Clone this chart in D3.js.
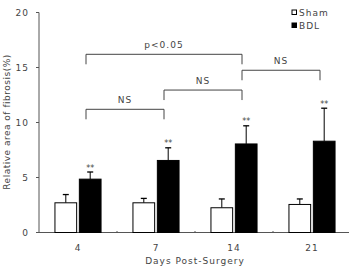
<!DOCTYPE html>
<html>
<head>
<meta charset="utf-8">
<script src="https://cdn.jsdelivr.net/npm/d3@7"></script>
<style>
  body { margin: 0; background: #fff; }
  text { font-family: "DejaVu Sans", sans-serif; fill: #444; letter-spacing: 1px; }
</style>
</head>
<body>
<script>
// chart data
const days = ['4', '7', '14', '21'];
const shamMean = [2.7, 2.7, 2.25, 2.55];
const shamErr = [0.75, 0.4, 0.8, 0.5];
const bdlMean = [4.85, 6.55, 8.05, 8.3];
const bdlErr = [0.65, 1.15, 1.65, 3.0];
const yTicks = [0, 5, 10, 15, 20];

// brackets: [fromDay, toDay, level (value), label]
const brackets = [
  ['4', '7', 11.2, 'NS'],
  ['7', '14', 12.95, 'NS'],
  ['14', '21', 14.75, 'NS'],
  ['4', '14', 16.2, 'p<0.05'],
];

const width = 349, height = 266;
const svg = d3.select('body').append('svg')
  .attr('width', width)
  .attr('height', height);

const x = d3.scaleBand().domain(days).range([39, 351]);
const y = d3.scaleLinear().domain([0, 20]).range([232.5, 12.5]);

const barW = 21.7;

// y axis
svg.append('line')
  .attr('x1', 39).attr('x2', 39)
  .attr('y1', y(20)).attr('y2', y(0))
  .style('stroke', '#555');

svg.selectAll('.ytick').data(yTicks).enter().append('line')
  .attr('x1', 36).attr('x2', 39)
  .attr('y1', d => y(d)).attr('y2', d => y(d))
  .style('stroke', '#555');

svg.selectAll('.ylab').data(yTicks).enter().append('text')
  .attr('x', 29)
  .attr('y', d => y(d) + 3.5)
  .attr('text-anchor', 'end')
  .style('font-size', '9px')
  .text(d => d);

// x axis
svg.append('line')
  .attr('x1', 39).attr('x2', 349)
  .attr('y1', y(0)).attr('y2', y(0))
  .style('stroke', '#555');

svg.selectAll('.xtick').data(days.slice(1)).enter().append('line')
  .attr('x1', d => x(d)).attr('x2', d => x(d))
  .attr('y1', y(0) - 1.5).attr('y2', y(0) + 0.5)
  .style('stroke', '#555');

svg.selectAll('.xlab').data(days).enter().append('text')
  .attr('x', d => x(d) + x.bandwidth() / 2)
  .attr('y', 251)
  .attr('text-anchor', 'middle')
  .style('font-size', '9px')
  .text(d => d);

svg.append('text')
  .attr('x', 195).attr('y', 264)
  .attr('text-anchor', 'middle')
  .style('font-size', '9px')
  .text('Days Post-Surgery');

svg.append('text')
  .attr('transform', 'translate(10,122) rotate(-90)')
  .attr('text-anchor', 'middle')
  .style('font-size', '9px')
  .style('letter-spacing', '0.5px')
  .text('Relative area of fibrosis(%)');

// bars + error bars
const drawSeries = function (means, errs, offset, fill) {
  const cx = (d, i) => x(days[i]) + x.bandwidth() / 2 + offset;
  svg.selectAll(null).data(means).enter().append('line')
    .attr('x1', cx).attr('x2', cx)
    .attr('y1', d => y(d))
    .attr('y2', (d, i) => y(d + errs[i]))
    .style('stroke', '#000');
  svg.selectAll(null).data(means).enter().append('line')
    .attr('x1', (d, i) => cx(d, i) - 3).attr('x2', (d, i) => cx(d, i) + 3)
    .attr('y1', (d, i) => y(d + errs[i]))
    .attr('y2', (d, i) => y(d + errs[i]))
    .style('stroke', '#000')
    .style('stroke-width', 1.3);
  svg.selectAll(null).data(means).enter().append('rect')
    .attr('x', (d, i) => cx(d, i) - barW / 2)
    .attr('y', d => y(d))
    .attr('width', barW)
    .attr('height', d => y(0) - y(d))
    .style('fill', fill)
    .style('stroke', '#000')
    .style('stroke-width', 1);
};

drawSeries(shamMean, shamErr, -12.2, '#fff');
drawSeries(bdlMean, bdlErr, 12.2, '#000');

// significance stars over BDL
svg.selectAll('.star').data(bdlMean).enter().append('text')
  .attr('x', (d, i) => x(days[i]) + x.bandwidth() / 2 + 12.2)
  .attr('y', (d, i) => y(d + bdlErr[i]) - 1.5)
  .attr('text-anchor', 'middle')
  .style('font-size', '8px')
  .style('letter-spacing', '0px')
  .text('**');

// comparison brackets
const bx = d => x(d) + x.bandwidth() / 2 + 8;
brackets.forEach((b) => {
  const x1 = bx(b[0]), x2 = bx(b[1]), yy = y(b[2]);
  svg.append('path')
    .attr('d', `M${x1},${yy + 10}V${yy}H${x2}V${yy + 10}`)
    .style('fill', 'none')
    .style('stroke', '#444');
  svg.append('text')
    .attr('x', (x1 + x2) / 2)
    .attr('y', yy - 6)
    .attr('text-anchor', 'middle')
    .style('font-size', '9px')
    .text(b[3]);
});

// legend
const legend = [['Sham', '#fff'], ['BDL', '#000']];
legend.forEach((l, i) => {
  svg.append('rect')
    .attr('x', 292).attr('y', 10 + i * 13)
    .attr('width', 4.5).attr('height', 4.5)
    .style('fill', l[1])
    .style('stroke', '#000');
  svg.append('text')
    .attr('x', 299).attr('y', 16 + i * 13)
    .style('font-size', '9px')
    .text(l[0]);
});
</script>
</body>
</html>
